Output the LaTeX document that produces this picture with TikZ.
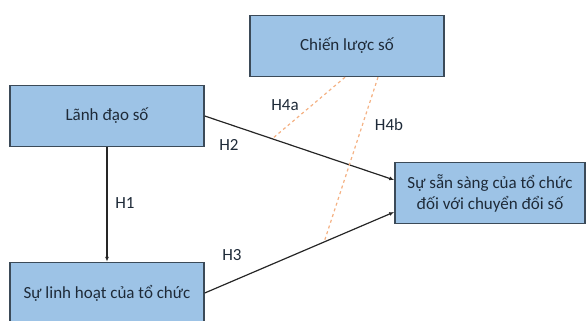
\documentclass[tikz,border=0pt]{standalone}
\usepackage{fontspec}
\setmainfont{Carlito}
\usetikzlibrary{arrows.meta,positioning}

\definecolor{boxfill}{HTML}{9DC3E6}
\definecolor{boxline}{HTML}{3B4A58}
\definecolor{dashline}{HTML}{F4B183}
\definecolor{inktext}{HTML}{1E2A38}

\begin{document}
\begin{tikzpicture}[
      x=1pt, y=-1pt,
      every node/.style={font=\fontsize{17}{21}\selectfont, text=inktext},
      construct/.style={
        draw=boxline,
        line width=1.5pt,
        fill=boxfill,
        minimum width=194pt,
        minimum height=61pt,
        align=center,
        inner sep=2pt
      },
      path/.style={-{Latex[length=5pt,width=4pt]}, line width=1.2pt, draw=black!85},
      moderate/.style={dashed, line width=1.2pt, draw=dashline}
    ]
    \useasboundingbox (0,0) rectangle (586,321);

    % Constructs
    \node[construct] (strategy) at (347,46) {Chiến lược số};
    \node[construct] (leader) at (107,116) {Lãnh đạo số};
    \node[construct] (agility) at (107,293) {Sự linh hoạt của tổ chức};
    \node[
      construct,
      minimum width=190pt
    ] (ready) at (490,193) {Sự sẵn sàng của tổ chức\\đối với chuyển đổi số};

    % Direct paths
    \draw[path] (leader) -- (agility);
    \draw[path] (leader.east) -- coordinate[pos=0.356] (onh2) ([yshift=13pt]ready.west);
    \draw[path] (agility.east) -- coordinate[pos=0.63] (onh3) ([yshift=-19pt]ready.west);

    % Moderating paths
    \draw[moderate] ([xshift=-2pt]strategy.south) -- (onh2);
    \draw[moderate] ([xshift=31pt]strategy.south) -- (onh3);

    % Labels
    \node (h1) at (125,203) {H1};
    \node (h2) at (229,145) {H2};
    \node (h3) at (232,255) {H3};
    \node (h4a) at (285,105) {H4a};
    \node (h4b) at (389,125) {H4b};

  \end{tikzpicture}
\end{document}
